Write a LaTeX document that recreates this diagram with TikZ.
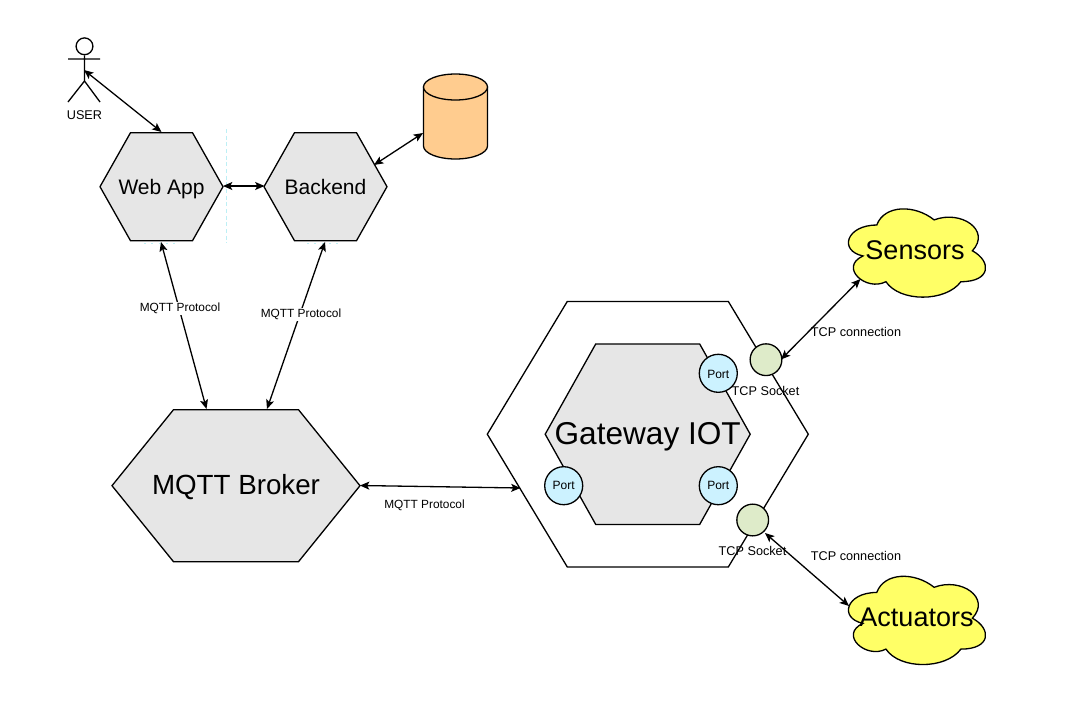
\documentclass[tikz,border=0pt]{standalone}
\usepackage{fontspec}
\setmainfont{Liberation Sans}
\usetikzlibrary{arrows.meta}
\definecolor{hexgray}{HTML}{E6E6E6}
\definecolor{portblue}{HTML}{CCF2FF}
\definecolor{sockgreen}{HTML}{DEEBC9}
\definecolor{cloudyellow}{HTML}{FFFF66}
\definecolor{cylorange}{HTML}{FFCC8F}
\definecolor{guide}{HTML}{BDEFF5}
\tikzset{
  x=0.75pt,y=-0.75pt,
  shapeline/.style={draw=black,line width=0.98pt,line join=miter},
  link/.style={draw=black,line width=0.98pt,{Stealth[length=7pt,width=6pt,inset=1.6pt]}-{Stealth[length=7pt,width=6pt,inset=1.6pt]}},
  small/.style={font=\fontsize{8.9}{11}\selectfont,inner sep=0.5pt,anchor=base},
  wider/.style={small,font=\fontsize{9.5}{11}\selectfont},
  edgelabel/.style={small,fill=white},
  port/.style={circle,shapeline,fill=portblue,minimum size=28.5pt,inner sep=0pt},
  porttext/.style={font=\fontsize{9}{11}\selectfont,inner sep=0pt,anchor=base},
  socket/.style={circle,shapeline,fill=sockgreen,minimum size=23.8pt,inner sep=0pt},
  guideline/.style={draw=guide,line width=0.75pt,dash pattern=on 3pt off 2pt},
  guidedots/.style={draw=guide,line width=0.75pt,dash pattern=on 1.5pt off 4pt},
}
% #1 name #2 cx #3 cy #4 half width #5 half height #6 top half width #7 fill #8 text baseline y #9 font size and text
\newcommand{\hexbox}[9]{%
  \path[shapeline,fill=#7] (#2-#4,#3) -- (#2-#6,#3-#5) -- (#2+#6,#3-#5) -- (#2+#4,#3) -- (#2+#6,#3+#5) -- (#2-#6,#3+#5) -- cycle;
  \node[inner sep=0pt,anchor=base] (#1) at (#2,#8) {#9};%
}
\newcommand{\sz}[1]{\fontsize{#1}{#1}\selectfont}
% #1 x0 #2 y0 (w=153,h=103)
\newcommand{\cloudpath}[2]{%
  \begin{scope}[shift={(#1,#2)},x=114.75pt,y=-77.25pt]
    \path[shapeline,fill=cloudyellow] (0.25,0.25)
      .. controls (0.05,0.25) and (0,0.5) .. (0.16,0.55)
      .. controls (0,0.66) and (0.18,0.9) .. (0.31,0.8)
      .. controls (0.4,1) and (0.7,1) .. (0.8,0.8)
      .. controls (1,0.8) and (1,0.6) .. (0.875,0.5)
      .. controls (1,0.3) and (0.8,0.1) .. (0.625,0.2)
      .. controls (0.5,0.05) and (0.3,0.05) .. (0.25,0.25) -- cycle;
  \end{scope}%
}
\begin{document}
\begin{tikzpicture}
\useasboundingbox (0,0) rectangle (1072,707);
% editor guides
\path[guideline] (226,129) -- (226,243);
\path[guidedots] (144,243.5) -- (180,243.5);
\path[guidedots] (307,243.5) -- (343,243.5);
% actor
\node[circle,shapeline,minimum size=12.6pt,inner sep=0pt] (head) at (84.5,46.3) {};
\coordinate (hip) at (84.5,81);
\coordinate (armL) at (68,59);
\coordinate (armR) at (100,59);
\coordinate (legL) at (68,102);
\coordinate (legR) at (100,102);
\draw[shapeline] (head.south) -- (hip) (armL) -- (armR) (legL) -- (hip) -- (legR);
\node[wider] (user) at (84.5,119.3) {USER};
% hexagons
\hexbox{web}{161.5}{186.7}{61.5}{54}{31}{hexgray}{194}{\sz{15.75}Web App}
\hexbox{backend}{325.5}{186.7}{61.5}{54}{31}{hexgray}{194}{\sz{15.75}Backend}
\hexbox{broker}{236}{485.7}{124}{76}{62.5}{hexgray}{494}{\sz{20.8}MQTT Broker}
\hexbox{outer}{647.8}{434.2}{160.5}{132.8}{80.5}{white}{434}{}
\hexbox{gateway}{647.7}{434.2}{102.5}{90.2}{52}{hexgray}{444}{\sz{23.7}Gateway IOT}
% cylinder
\path[shapeline,fill=cylorange] (423.5,87) -- (423.5,146) arc[start angle=180,end angle=0,x radius=32,y radius=13] -- (487.5,87) -- cycle;
\path[shapeline,fill=cylorange] (423.5,87) arc[start angle=180,end angle=540,x radius=32,y radius=13];
% clouds
\cloudpath{838.5}{199.3}
\cloudpath{838.5}{566.7}
% sockets and ports
\node[socket] (sock1) at (766,359.7) {};
\node[socket] (sock2) at (752.7,520) {};
\node[port] (port1) at (718.3,373.3) {};
\node[port] (port2) at (718.3,485.7) {};
\node[port] (port3) at (563.7,485.7) {};
\node[porttext] (pt1) at (718.3,378) {Port};
\node[porttext] (pt2) at (718.3,489) {Port};
\node[porttext] (pt3) at (563.7,489) {Port};
% cloud texts
\node[inner sep=0pt,anchor=base] (sensors) at (915,259) {\sz{20.25}Sensors};
\node[inner sep=0pt,anchor=base] (actuators) at (916.5,626.7) {\sz{20.25}Actuators};
% connector ends
\coordinate (userEnd) at (84,70);
\coordinate (webTop) at (161.5,132);
\coordinate (webRight) at (223,186);
\coordinate (backLeft) at (264.5,186);
\coordinate (backCyl) at (374,165);
\coordinate (cylEnd) at (423,133);
\coordinate (webBot) at (161,242);
\coordinate (backBot) at (325,242);
\coordinate (brokerA) at (206.5,409);
\coordinate (brokerB) at (267,409);
\coordinate (brokerR) at (360,485.5);
\coordinate (outerL) at (520.5,488);
\coordinate (sensEnd) at (860.5,279);
\coordinate (sockA) at (781,359.5);
\coordinate (sockB) at (765,533);
\coordinate (actEnd) at (849,606);
% connectors
\draw[link] (userEnd) -- (webTop);
\draw[link] (webRight) -- (backLeft);
\draw[link] (backCyl) -- (cylEnd);
\draw[link] (webBot) -- (brokerA);
\draw[link] (backBot) -- (brokerB);
\draw[link] (brokerR) -- (outerL);
\draw[link] (sensEnd) -- (sockA);
\draw[link] (sockB) -- (actEnd);
% labels
\node[edgelabel] (l1) at (180,311.7) {MQTT Protocol};
\node[edgelabel] (l2) at (301,317.7) {MQTT Protocol};
\node[small] (l3) at (424.5,508.7) {MQTT Protocol};
\node[wider] (l4) at (856,336) {TCP connection};
\node[wider] (l5) at (856,560) {TCP connection};
\node[wider] (l6) at (765.5,395) {TCP Socket};
\node[wider] (l7) at (752.5,555.7) {TCP Socket};
\end{tikzpicture}
\end{document}
